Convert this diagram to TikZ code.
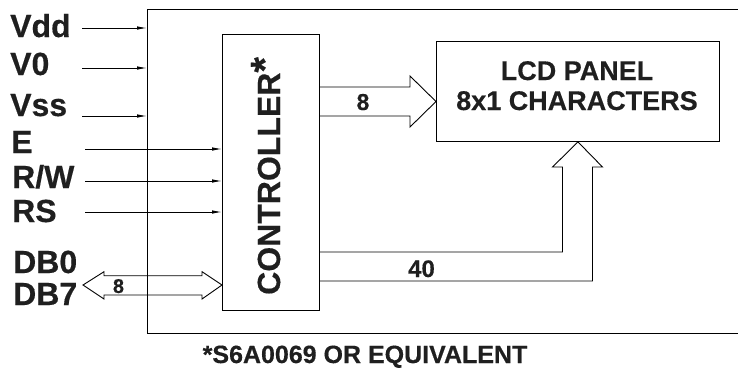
\documentclass[tikz,border=0pt]{standalone}
\usepackage{fontspec}
\setmainfont{Liberation Sans}[BoldFeatures={FakeBold=0.4}]
\usetikzlibrary{arrows.meta}
\begin{document}
\begin{tikzpicture}[x=1pt,y=-1pt,
  lbl/.style={font=\bfseries\fontsize{32}{32}\selectfont, anchor=base west, inner sep=0, text=black!88},
  sig/.style={draw, line width=0.9pt, -{Latex[length=10pt,width=3.5pt]}},
  wire/.style={line width=0.9pt},
  fat/.style={draw, line width=0.9pt, line join=miter},
  box/.style={draw, line width=0.9pt, inner sep=0},
  num/.style={font=\bfseries\fontsize{#1}{#1}\selectfont, anchor=base, inner sep=0, text=black!88},
  ]
\useasboundingbox (0,0) rectangle (738,376);
% outer frame
\coordinate (otl) at (147,9);
\coordinate (obl) at (147,333);
\draw[wire] (738,9) -- (otl) -- (obl) -- (738,333);
% boxes
\node[box, minimum width=97pt, minimum height=276pt, anchor=north west] (ctl) at (222,34) {};
\node[box, minimum width=283pt, minimum height=100pt, anchor=north west] (lcd) at (436,41) {};
\node[font=\bfseries\fontsize{32}{32}\selectfont, rotate=90, anchor=base west, inner sep=0, text=black!88] (ctltxt) at (280,295) {CONTROLLER\raisebox{0.05em}{\fontsize{40}{40}\selectfont*}};
\node[font=\bfseries\fontsize{27}{30}\selectfont, inner sep=0, anchor=base, text=black!88] (lcdtxt1) at (577,80) {LCD PANEL};
\node[font=\bfseries\fontsize{27}{30}\selectfont, inner sep=0, anchor=base, text=black!88] (lcdtxt2) at (577,110) {8x1 CHARACTERS};
% labels
\node[lbl] (vdd) at (10,37) {Vdd};
\node[lbl] (v0) at (10,75) {V0};
\node[lbl] (vss) at (10,116) {Vss};
\node[lbl] (e) at (11,153) {E};
\node[lbl] (rw) at (12,188) {R/W};
\node[lbl] (rs) at (12,222) {RS};
\node[lbl] (db0) at (13,273) {DB0};
\node[lbl] (db7) at (13,305) {DB7};
% signal arrows
\coordinate (s1) at (82,28);
\coordinate (s2) at (82,68);
\coordinate (s3) at (82,116);
\coordinate (s4) at (85,149);
\coordinate (s5) at (85,181);
\coordinate (s6) at (85,212);
\draw[sig] (s1) -- (s1 -| otl);
\draw[sig] (s2) -- (s2 -| otl);
\draw[sig] (s3) -- (s3 -| otl);
\draw[sig] (s4) -- (s4 -| ctl.west);
\draw[sig] (s5) -- (s5 -| ctl.west);
\draw[sig] (s6) -- (s6 -| ctl.west);
% bus arrow 8 to LCD
\draw[fat] (ctl.east |- 0,87) -- (410,87) -- (410,76) -- (lcd.west |- 0,101.5) -- (410,127) -- (410,116) -- (ctl.east |- 0,116);
\node[num=23] (n8) at (363,110) {8};
% bus arrow 40 to LCD
\draw[fat] (ctl.east |- 0,252) -- (562.5,252) -- (562.5,167) -- (552.5,167) -- (lcd.south) -- (602.5,167) -- (592.5,167) -- (592.5,281) -- (ctl.east |- 0,281);
\node[num=24] (n40) at (421.5,277) {40};
% DB bidirectional arrow
\coordinate (dbtip) at (83,285);
\draw[fat] (dbtip) -- (104,271.7) -- (104,275.7) -- (202,275.7) -- (202,271.7) -- (ctl.west |- 0,285) -- (202,299) -- (202,295) -- (104,295) -- (104,299) -- cycle;
\node[num=20] (ndb) at (118.5,293) {8};
% footnote
\node[num=25] (foot) at (365,363) {*S6A0069 OR EQUIVALENT};
\end{tikzpicture}
\end{document}
